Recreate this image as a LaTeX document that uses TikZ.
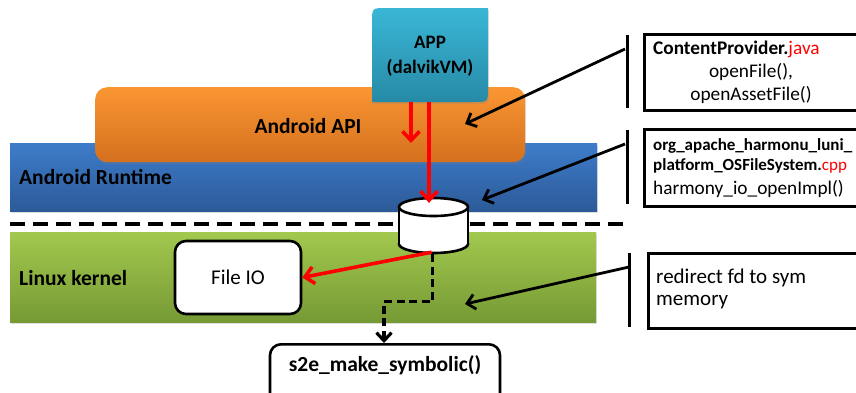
\documentclass[tikz,border=0pt]{standalone}
\usepackage{fontspec}
\setmainfont{Carlito}
\usetikzlibrary{arrows.meta,shadows,calc}
\definecolor{tealT}{RGB}{58,182,214}
\definecolor{tealB}{RGB}{38,138,166}
\definecolor{orT}{RGB}{250,150,50}
\definecolor{orB}{RGB}{212,112,30}
\definecolor{blT}{RGB}{62,124,202}
\definecolor{blB}{RGB}{44,90,152}
\definecolor{grT}{RGB}{162,200,78}
\definecolor{grB}{RGB}{118,154,52}
\definecolor{redA}{RGB}{255,0,0}
\begin{document}
\begin{tikzpicture}[x=1pt,y=-1pt,
  layer/.style={inner sep=0pt, anchor=north west, drop shadow={opacity=0.25, shadow xshift=1pt, shadow yshift=-2pt}},
  big/.style={font=\fontsize{21.5}{24}\selectfont\bfseries, inner sep=0pt},
  mid/.style={font=\fontsize{19.3}{22}\selectfont, inner sep=0pt},
  rbox/.style={draw=black, fill=white, line width=2.6pt, rounded corners=11pt, inner sep=0pt},
  note/.style={draw=black, fill=white, line width=3pt, inner sep=0pt, anchor=north west},
  bar/.style={line width=3pt},
  redarr/.style={draw=redA, line width=3.6pt, -{Straight Barb[length=9pt,width=17pt]}},
  blkarr/.style={draw=black, line width=2.8pt, -{Straight Barb[length=8pt,width=15pt]}},
  dasharr/.style={draw=black, line width=3.2pt, dash pattern=on 8pt off 4.5pt, -{Straight Barb[length=8pt,width=15pt]}},
  sepline/.style={draw=black, line width=4.5pt, dash pattern=on 15pt off 8pt}
]
\useasboundingbox (0,0) rectangle (856,392);
\clip (0,0) rectangle (856,392);

% Android Runtime layer
\node[layer, top color=blT, bottom color=blB, minimum width=587pt, minimum height=68pt] (rt) at (10,143) {};
% Android API layer
\node[layer, rounded corners=12pt, top color=orT, bottom color=orB, minimum width=430pt, minimum height=75pt] (api) at (95,87) {};
% APP block
\shade[top color=tealT, bottom color=tealB, drop shadow={opacity=0.25, shadow xshift=1pt, shadow yshift=-2pt}]
  (372,102) -- (372,22) .. controls (372,8) .. (386,8) -- (488,8) -- (488,88) .. controls (488,102) .. (474,102) -- cycle;
\node[minimum width=116pt, minimum height=94pt, inner sep=0pt] (app) at (430,55) {};
\node[font=\fontsize{19}{22}\selectfont\bfseries, inner sep=0pt] (apptxt) at (430,42) {APP};
\node[font=\fontsize{19}{22}\selectfont\bfseries, inner sep=0pt] (dalvik) at (430,68) {(dalvikVM)};

\node[big] (apitxt) at (308,126) {Android API};
\node[big, anchor=west] (rttxt) at (19,177) {Android Runtime};

% separator
\coordinate (sepL) at (10,224);
\coordinate (sepR) at (623,224);
\draw[sepline] (sepL) -- (sepR);

% Linux kernel layer
\node[layer, top color=grT, bottom color=grB, minimum width=586pt, minimum height=90pt] (lk) at (10,232) {};
\node[big, anchor=west] (lktxt) at (19,278) {Linux kernel};

% File IO
\node[rbox, minimum width=126pt, minimum height=73pt, font=\fontsize{21}{24}\selectfont] (fio) at (238,277.5) {File IO};

% s2e box
\node[rbox, anchor=north, minimum width=230pt, minimum height=70pt] (s2e) at (385,343) {};
\node[big] (s2etxt) at (385,365) {s2e\_make\_symbolic()};

% cylinder
\node[minimum width=69pt, minimum height=55pt, inner sep=0pt] (cyl) at (433.5,225.5) {};
\filldraw[fill=white, draw=black, line width=2.6pt] (433.5,244) ellipse [x radius=34.5pt, y radius=9pt];
\fill[white] (399,207) rectangle (468,244);
\draw[black, line width=2.6pt] (399,207) -- (399,244) (468,207) -- (468,244);
\filldraw[fill=white, draw=black, line width=2.6pt] (433.5,207) ellipse [x radius=34.5pt, y radius=9pt];

% red arrows
\coordinate (apiTip) at (411,143);
\draw[redarr] ([xshift=-19pt]app.south) -- (apiTip);
\draw[redarr] ([xshift=-1pt]app.south) -- ([xshift=-4.5pt,yshift=-5pt]cyl.north);
\draw[redarr] ([xshift=-2pt,yshift=1pt]cyl.south) -- (fio.east);

% dashed arrow to s2e
\draw[dasharr] ([xshift=-1pt,yshift=-1pt]cyl.south) -- ++(0,47) -| ([xshift=-1pt]s2e.north);

% note 1
\coordinate (b1t) at (627,35);
\coordinate (b1b) at (627,108);
\draw[bar] (b1t) -- (b1b);
\node[note, minimum width=240pt, minimum height=76pt] (n1) at (643,33) {};
\node[mid, anchor=west] (n1a) at (653,49) {\textbf{ContentProvider.}\textcolor{redA}{java}};
\node[mid] (n1b) at (751,72) {openFile(),};
\node[mid] (n1c) at (751,95) {openAssetFile()};
\coordinate (a1s) at (625,49);
\coordinate (a1e) at (465,124);
\draw[blkarr] (a1s) -- (a1e);

% note 2
\coordinate (b2t) at (627,130);
\coordinate (b2b) at (627,204);
\draw[bar] (b2t) -- (b2b);
\node[note, minimum width=240pt, minimum height=77pt] (n2) at (643,128) {};
\node[font=\fontsize{17}{20}\selectfont\bfseries, inner sep=0pt, anchor=west] (n2a) at (653,146) {org\_apache\_harmonu\_luni\_};
\node[font=\fontsize{17}{20}\selectfont\bfseries, inner sep=0pt, anchor=west] (n2b) at (653,166) {platform\_OSFileSystem.\textcolor{redA}{\mdseries cpp}};
\node[mid, anchor=west] (n2c) at (653,189) {harmony\_io\_openImpl()};
\coordinate (a2s) at (625,144);
\coordinate (a2e) at (482,200);
\draw[blkarr] (a2s) -- (a2e);

% note 3
\coordinate (b3t) at (629,253);
\coordinate (b3b) at (629,327);
\draw[bar] (b3t) -- (b3b);
\node[note, minimum width=240pt, minimum height=75pt] (n3) at (647,252) {};
\node[font=\fontsize{21}{24}\selectfont, inner sep=0pt, anchor=west] (n3a) at (656,278) {redirect fd to sym};
\node[font=\fontsize{21}{24}\selectfont, inner sep=0pt, anchor=west] (n3b) at (656,302) {memory};
\coordinate (a3s) at (629,267);
\coordinate (a3e) at (465,304);
\draw[blkarr] (a3s) -- (a3e);
\end{tikzpicture}
\end{document}
